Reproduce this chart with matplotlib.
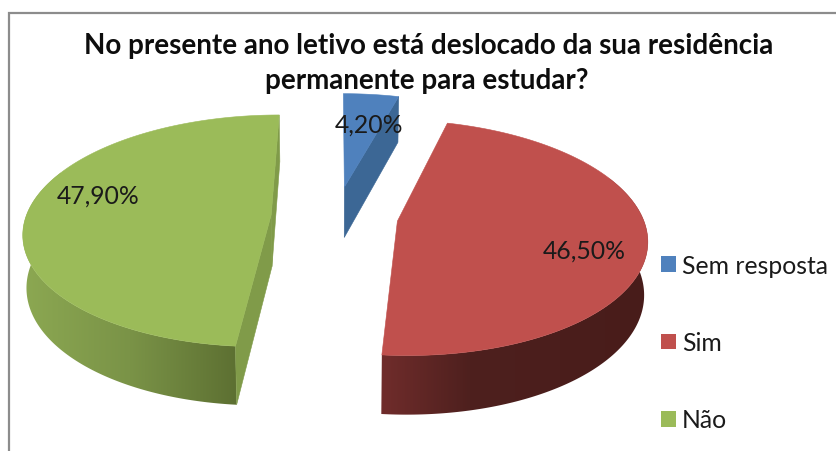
import numpy as np
import matplotlib
matplotlib.use("Agg")
import matplotlib.pyplot as plt
from matplotlib.colors import to_rgb
from matplotlib.patches import Patch, Polygon

categories = ["Sem resposta", "Sim", "Não"]
values = [4.2, 46.5, 47.9]
title_lines = ["No presente ano letivo está deslocado da sua residência",
               "permanente para estudar?"]
colors = ["#4F81BD", "#C0504D", "#9BBB59"]
label_xy = [(369, 125), (584, 251), (98, 196)]

# projection parameters (pixels)
VX, CY, A, B, K, D, E = 336, 217, 245, 114, 0.14, 52.5, 0.265
SHRINK = 0.012

plt.rcParams['font.family'] = ['Lato', 'DejaVu Sans']
fig = plt.figure(figsize=(8.36, 4.52), dpi=100, facecolor="white")
ax = fig.add_axes([0, 0, 1, 1])
ax.set_xlim(0, 836)
ax.set_ylim(452, 0)
ax.axis("off")

ax.plot([9, 9, 836], [452, 14, 14], color="#8c8c8c", lw=1.6, solid_joinstyle="miter")


def proj(X, Y, z):
    w = (1 + K * Y) * (1 + SHRINK * z)
    return VX + A * X / w, CY + (-B * Y + D * z) / w


def pt(mid, t, r, z):
    X = E * np.cos(mid) + r * np.cos(t)
    Y = E * np.sin(mid) + r * np.sin(t)
    return proj(X, Y, z)


def side(mid, t0, t1, stops):
    """Rim between two angles, shaded along screen x."""
    ts = np.linspace(t0, t1, 160)
    x0, y0 = pt(mid, ts, 1.0, 0)
    x1, y1 = pt(mid, ts, 1.0, 1)
    xy = np.c_[np.r_[x0, x1[::-1]], np.r_[y0, y1[::-1]]]
    poly = Polygon(xy, closed=True, facecolor="none", edgecolor="none", transform=ax.transData)
    ax.add_patch(poly)
    xmin, xmax = xy[:, 0].min() - 2, xy[:, 0].max() + 2
    xs = np.linspace(xmin, xmax, 400)
    rgb = np.array([to_rgb(s[1]) for s in stops])
    pos = [s[0] for s in stops]
    img = np.stack([np.interp(xs, pos, rgb[:, i]) for i in range(3)], axis=1)[None, :, :]
    im = ax.imshow(img, extent=(xmin, xmax, xy[:, 1].max() + 2, xy[:, 1].min() - 2),
                   aspect="auto", interpolation="bilinear", zorder=1)
    im.set_clip_path(poly)
    ax.set_xlim(0, 836)
    ax.set_ylim(452, 0)


def wall(mid, t, color):
    cx0, cy0 = pt(mid, 0.0, 0.0, 0)
    cx1, cy1 = pt(mid, 0.0, 0.0, 1)
    x0, y0 = pt(mid, t, 1.0, 0)
    x1, y1 = pt(mid, t, 1.0, 1)
    ax.fill([cx0, x0, x1, cx1], [cy0, y0, y1, cy1], color=color, lw=0.4, zorder=2)


def top(mid, t0, t1, color):
    ts = np.linspace(t0, t1, 160)
    xs, ys = pt(mid, ts, 1.0, 0)
    cx, cy = pt(mid, 0.0, 0.0, 0)
    ax.fill(np.r_[cx, xs], np.r_[cy, ys], color=color, lw=0.4, zorder=3)


frac = np.array(values) / np.sum(values)
edges = np.pi / 2 - 2 * np.pi * np.r_[0, np.cumsum(frac)]
starts, ends = edges[:-1], edges[1:]
mids = (starts + ends) / 2

# Sem resposta
wall(mids[0], ends[0], "#3C6795")
top(mids[0], starts[0], ends[0], colors[0])

# Sim (rim carried a little past the side extreme so the silhouette stays full)
E = 0.253
side(mids[1], ends[1], 0.4, [(384, "#6F2C2B"), (470, "#4E201E"), (650, "#481C1A")])
top(mids[1], starts[1], ends[1], colors[1])

# Não: the rim runs from past the left extreme to the front corner
E = 0.265
side(mids[2], -np.pi - 0.4, ends[1], [(22, "#8CA852"), (130, "#7A9347"), (236, "#5D7032")])
wall(mids[2], starts[2], "#809B49")
wall(mids[2], ends[2], "#809B49")
top(mids[2], starts[2], ends[2], colors[2])

for v, (lx, ly) in zip(values, label_xy):
    ax.text(lx, ly, f"{v:.2f}%".replace(".", ","), ha="center", va="center",
            fontsize=17.8, color="#1a1a1a", zorder=5)

ax.text(429, 46, title_lines[0], ha="center", va="center", fontsize=20, fontweight="bold", color="#0d0d0d")
ax.text(426.5, 81, title_lines[1], ha="center", va="center", fontsize=20, fontweight="bold", color="#0d0d0d")

handles = [Patch(facecolor=c, edgecolor="none") for c in colors]
ax.legend(handles, categories, loc="upper left", bbox_to_anchor=(661 / 836, 1 - 255 / 452),
          frameon=False, fontsize=17.8, labelspacing=2.19, handlelength=0.61, handleheight=0.61,
          handletextpad=0.24, borderpad=0, borderaxespad=0, labelcolor="#1a1a1a")

fig.savefig("out.png", dpi=100, facecolor="white")
